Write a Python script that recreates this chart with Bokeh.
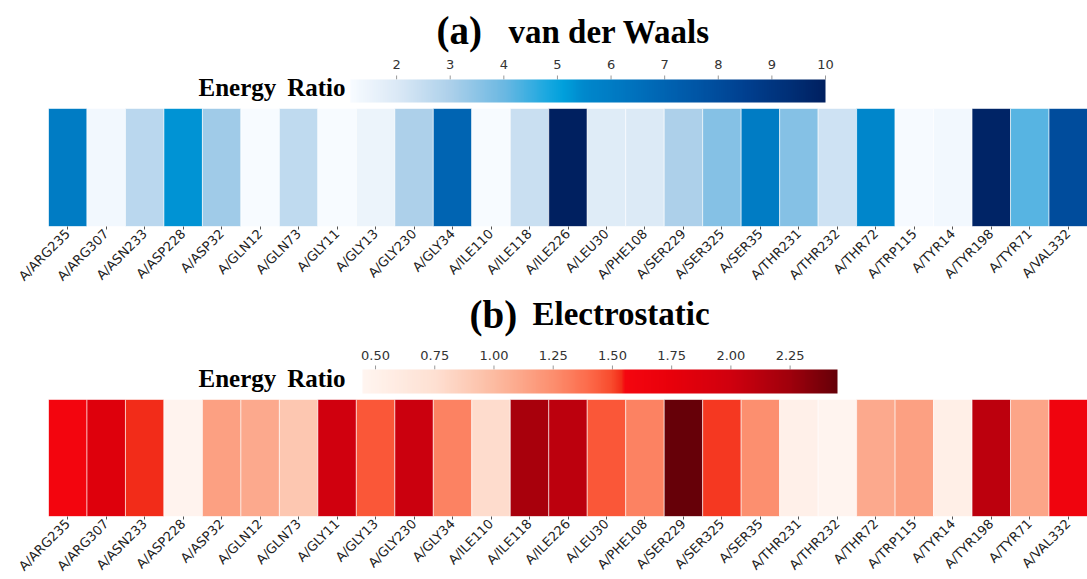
import numpy as np
from bokeh.plotting import figure
from bokeh.models import (LinearColorMapper, ColorBar, Label, FixedTicker,
                          ColumnDataSource, Range1d)
from bokeh.layouts import column
from bokeh.embed import file_html
from bokeh.resources import INLINE
from bokeh.core.properties import value

residues = ["A/ARG235", "A/ARG307", "A/ASN233", "A/ASP228", "A/ASP32", "A/GLN12",
            "A/GLN73", "A/GLY11", "A/GLY13", "A/GLY230", "A/GLY34", "A/ILE110",
            "A/ILE118", "A/ILE226", "A/LEU30", "A/PHE108", "A/SER229", "A/SER325",
            "A/SER35", "A/THR231", "A/THR232", "A/THR72", "A/TRP115", "A/TYR14",
            "A/TYR198", "A/TYR71", "A/VAL332"]

vdw_ratio = [6.0, 1.3, 2.7, 5.3, 3.2, 1.15, 2.6, 1.15, 1.5, 3.0, 7.0, 1.15, 2.4, 10.0,
             1.9, 2.0, 3.0, 3.6, 6.0, 3.6, 2.3, 5.6, 1.2, 1.3, 9.8, 4.2, 8.0]

elec_ratio = [1.58, 1.85, 1.54, 0.47, 1.15, 1.10, 0.92, 2.00, 1.46, 2.02, 1.30, 0.78,
              2.20, 2.10, 1.46, 1.30, 2.45, 1.52, 1.25, 0.52, 0.46, 1.10, 1.15, 0.54,
              2.10, 1.12, 1.62]

vdw_ticks = [2, 3, 4, 5, 6, 7, 8, 9, 10]
elec_ticks = [0.50, 0.75, 1.00, 1.25, 1.50, 1.75, 2.00, 2.25]
vdw_low, vdw_high = 1.14, 10.0
elec_low, elec_high = 0.445, 2.45

blue_stops = [(1.14, "#f7fbff"), (2.0, "#dbe9f6"), (3.0, "#acd0ea"), (4.0, "#6bb8e2"),
              (4.8, "#1aa8e0"), (5.1, "#00a0dc"), (5.5, "#0088cc"), (6.5, "#0070bc"),
              (7.5, "#0058a8"), (8.5, "#004090"), (9.3, "#003078"), (10.0, "#002060")]
red_stops = [(0.445, "#fff5f0"), (0.75, "#fee0d2"), (1.00, "#fcbba1"), (1.25, "#fc8e6e"),
             (1.40, "#fc6a4a"), (1.50, "#f84a2c"), (1.54, "#f22a18"), (1.55, "#f5060f"),
             (1.75, "#e8000b"), (2.00, "#d0000e"), (2.25, "#a0000c"), (2.45, "#660008")]


def build_palette(stops, lo, hi, n=256):
    vals = np.linspace(lo, hi, n)
    sv = [s for s, _ in stops]
    rgb = np.array([[int(c[i:i + 2], 16) for i in (1, 3, 5)] for _, c in stops], dtype=float)
    out = []
    for v in vals:
        r = [int(round(np.interp(v, sv, rgb[:, k]))) for k in range(3)]
        out.append("#%02x%02x%02x" % tuple(r))
    return out


LEFT = 48
FRAME_W = 1039
idx = list(range(len(residues)))


def make_panel(tag, name, tag_x, name_x, tag_y, name_y, values, stops, lo, hi, ticks, fmt,
               bar_x, bar_w, bar_h, bar_y, er_y, frame_h, cell_h, label_y):
    p = figure(x_range=Range1d(-0.5, len(residues) - 0.5),
               y_range=Range1d(0, frame_h / cell_h),
               frame_width=FRAME_W, frame_height=frame_h,
               min_border_left=LEFT, min_border_right=0,
               min_border_top=0, min_border_bottom=0,
               output_backend="svg", toolbar_location=None, tools="")
    ppu = bar_w / (hi - lo)
    cb_start = lo - bar_x / ppu
    p.extra_x_ranges = {"cb": Range1d(cb_start, cb_start + FRAME_W / ppu)}
    p.extra_y_ranges = {"px": Range1d(0, frame_h)}

    pal = build_palette(stops, lo, hi)
    mapper = LinearColorMapper(palette=pal, low=lo, high=hi)
    src = ColumnDataSource(dict(x=idx, val=values))
    p.rect(x="x", y=0.5, width=1, height=1, source=src,
           fill_color={"field": "val", "transform": mapper},
           line_color="white", line_width=0.8, line_alpha=0.7)
    p.yaxis.visible = False
    p.xgrid.visible = False
    p.ygrid.visible = False
    p.outline_line_color = None
    ax = p.xaxis[0]
    ax.ticker = FixedTicker(ticks=idx)
    ax.major_label_overrides = {i: r for i, r in zip(idx, residues)}
    ax.minor_tick_line_color = None
    ax.axis_line_color = None
    ax.major_label_orientation = np.pi / 4
    ax.major_tick_in = 0
    ax.major_tick_out = 3
    ax.major_tick_line_color = "#555555"
    ax.major_label_text_font = "DejaVu Sans"
    ax.major_label_text_font_size = "13px"
    ax.major_label_text_color = "#222222"
    ax.major_label_standoff = 2

    cb = ColorBar(color_mapper=mapper, orientation="horizontal", location=(bar_x, bar_y),
                  width=bar_w, height=bar_h, padding=0, margin=0, label_standoff=0,
                  ticker=FixedTicker(ticks=[]), major_label_text_font_size="0px",
                  major_tick_line_color=None, minor_tick_line_color=None,
                  bar_line_color=None, border_line_color=None, background_fill_alpha=0)
    p.add_layout(cb, "center")

    # colour-bar ticks and labels above the bar
    n = len(ticks)
    top = bar_y + bar_h
    p.segment(x0=ticks, x1=ticks, y0=[top] * n, y1=[top + 4] * n,
              x_range_name="cb", y_range_name="px", line_color="#999999", line_width=1)
    p.text(x=ticks, y=[label_y] * n, text=[fmt % t for t in ticks],
           x_range_name="cb", y_range_name="px", text_align="center",
           text_baseline="alphabetic", text_font=value("DejaVu Sans"),
           text_font_size="13px", text_color="#333333")

    def lab(x, y, t, size, align="left"):
        p.add_layout(Label(x=x, y=y, x_units="screen", y_units="screen", text=t,
                           text_font="Liberation Serif", text_font_style="bold",
                           text_font_size=size, text_baseline="alphabetic",
                           text_color="black", text_align=align))

    lab(tag_x, tag_y, tag, "39px")
    lab(name_x, name_y, name, "33px")
    lab(150, er_y, "Energy", "25px")
    lab(297, er_y, "Ratio", "25px", "right")
    return p


pa = make_panel("(a)", "van der Waals", 388, 460, 196, 195, vdw_ratio, blue_stops,
                vdw_low, vdw_high, vdw_ticks, "%d",
                302, 475, 23, 124, 139, 226, 118, 162)
pb = make_panel("(b)", "Electrostatic", 421, 484, 202, 203, elec_ratio, red_stops,
                elec_low, elec_high, elec_ticks, "%.2f",
                314, 475, 24, 123, 138, 225, 117, 161)

layout = column(pa, pb, spacing=0)
open("out.html", "w").write(file_html(layout, INLINE))
